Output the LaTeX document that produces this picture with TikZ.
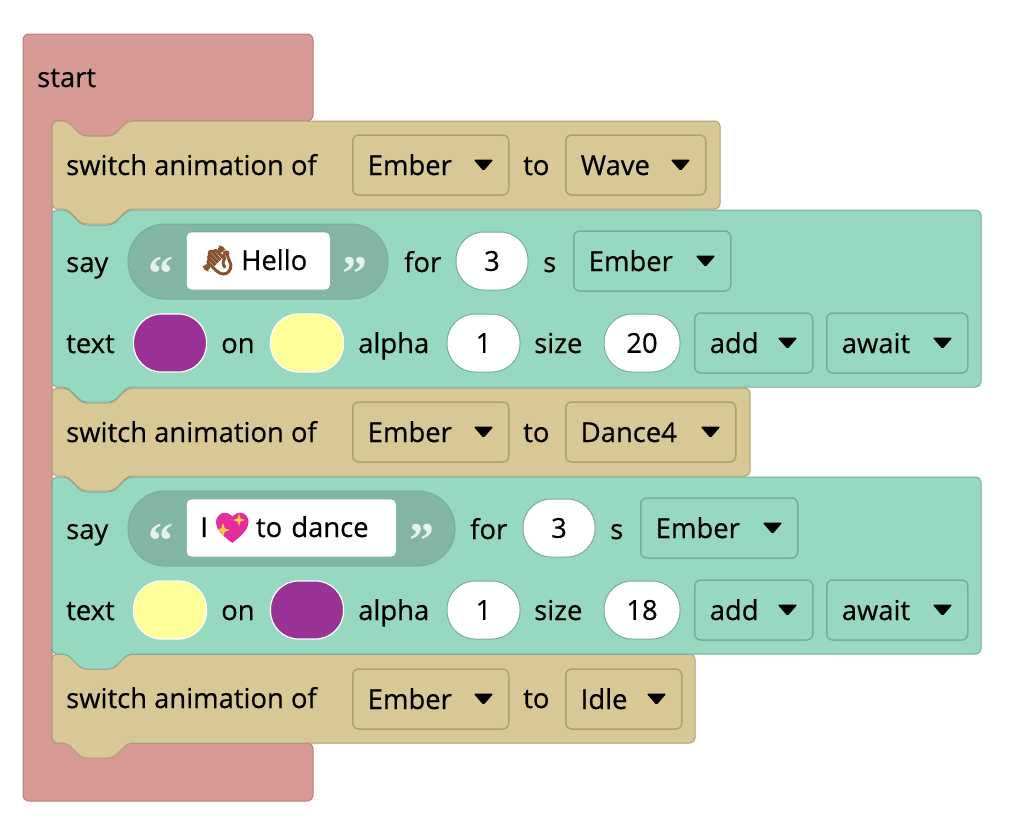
\documentclass[tikz,border=0pt]{standalone}
\usepackage{fontspec}
\setmainfont{Open Sans}[FakeBold=0.5]
\newfontfamily\emojifont{Noto Emoji}[FakeBold=7]
\newfontfamily\quotefont{Liberation Serif}[BoldFont={Liberation Serif Bold}]
\definecolor{startred}{HTML}{D89A95}
\definecolor{startedge}{HTML}{B57C78}
\definecolor{animtan}{HTML}{D7C896}
\definecolor{animedge}{HTML}{ABA078}
\definecolor{saygreen}{HTML}{97D8C0}
\definecolor{sayedge}{HTML}{79AD9A}
\definecolor{quotepill}{HTML}{82B5A5}
\definecolor{swatchpurple}{HTML}{9A3296}
\definecolor{swatchyellow}{HTML}{FFFF99}
\definecolor{handbrown}{HTML}{8A5230}
\definecolor{heartpink}{HTML}{E52C9C}
\definecolor{stargold}{HTML}{FBD043}
\tikzset{
    txt/.style={anchor=base west,inner sep=0pt,font=\fontsize{27.4}{30}\selectfont},
    block/.style={line width=1pt,rounded corners=5pt},
    field/.style={draw=#1,line width=1.5pt,rounded corners=6pt,anchor=west,align=left,
        inner xsep=15pt,inner ysep=0pt,minimum height=60pt,text height=22pt,text depth=2pt,
        font=\fontsize{27.4}{30}\selectfont},
    numpill/.style={draw=sayedge,fill=white,line width=1pt,rounded corners=28pt,inner sep=0pt,
        minimum width=#1,minimum height=58pt,font=\fontsize{27.4}{30}\selectfont},
    swatch/.style={draw=white,line width=1.2pt,fill=#1,rounded corners=28pt,inner sep=0pt,
        minimum width=73pt,minimum height=58pt},
    quotemark/.style={inner sep=0pt,text=white!80!quotepill,font=\quotefont\bfseries\fontsize{50}{50}\selectfont},
    textbox/.style={fill=white,draw=sayedge,line width=.6pt,rounded corners=5pt,anchor=west,align=left,
        inner xsep=14pt,inner ysep=0pt,minimum height=58pt,text height=21pt,text depth=3pt,
        font=\fontsize{27.4}{30}\selectfont},
}
% block outline: style, left, top, right, bottom
\newcommand{\blockshape}[5]{
    \draw[block,#1] (#2,#3) -- (67,#3) -- (82,#3+15) -- (113,#3+15) -- (128,#3) -- (#4,#3)
        -- (#4,#5) -- (128,#5) -- (113,#5+15) -- (82,#5+15) -- (67,#5) -- (#2,#5) -- cycle;
}
% name, left, width, middle, text, colour
\newcommand{\dropdown}[6]{
    \node[field=#6,text width=#3pt-30pt] (#1) at (#2,#4) {#5};
    \fill[rounded corners=1.5pt] ([shift={(-36,-5.5)}]#1.east) -- ++(20,0) -- ++(-10,11.5) -- cycle;
}
% small four point star
\newcommand{\sparkle}[3]{
    \fill[stargold] (#1,#2-#3) -- (#1+.25*#3,#2-.25*#3) -- (#1+#3,#2) -- (#1+.25*#3,#2+.25*#3)
        -- (#1,#2+#3) -- (#1-.25*#3,#2+.25*#3) -- (#1-#3,#2) -- (#1-.25*#3,#2-.25*#3) -- cycle;
}
\begin{document}
\begin{tikzpicture}[x=1pt,y=-1pt]
        \useasboundingbox (0,0) rectangle (1010,827);
        \draw[block,rounded corners=6pt,fill=startred,draw=startedge] (23,34) -- (313,34) -- (313,121) -- (128,121)
            -- (113,136) -- (82,136) -- (67,121) -- (52,121) -- (52,743) -- (313,743) -- (313,801) -- (23,801) -- cycle;
        \node[txt] (start) at (37,87) {start};

        \blockshape{fill=animtan,draw=animedge}{52}{654}{695}{743}
        \blockshape{fill=saygreen,draw=sayedge}{52}{477}{981}{654}
        \blockshape{fill=animtan,draw=animedge}{52}{388}{750}{476}
        \blockshape{fill=saygreen,draw=sayedge}{52}{210}{981}{387}
        \blockshape{fill=animtan,draw=animedge}{52}{121}{720}{209}

        % switch animation rows
        \node[txt] (switcha) at (66,175) {switch animation of};
        \dropdown{whoa}{352}{156}{165}{Ember}{animedge}
        \node[txt] (toa) at (523,175) {to};
        \dropdown{anima}{565}{140}{165}{Wave}{animedge}

        \node[txt] (switchb) at (66,442) {switch animation of};
        \dropdown{whob}{352}{156}{432}{Ember}{animedge}
        \node[txt] (tob) at (523,442) {to};
        \dropdown{animb}{565}{170}{432}{Dance4}{animedge}

        \node[txt] (switchc) at (66,708) {switch animation of};
        \dropdown{whoc}{352}{156}{699}{Ember}{animedge}
        \node[txt] (toc) at (523,708) {to};
        \dropdown{animc}{565}{116}{699}{Idle}{animedge}

        % first say block
        \node[txt] (saya) at (66,272) {say};
        \draw[line width=1pt,draw=sayedge,fill=quotepill,rounded corners=37pt] (128,224) rectangle (388,299);
        \node[quotemark] (lqa) at (161,274) {“};
        \node[quotemark] (rqa) at (355,274) {”};
        \node[textbox,text width=116pt] (boxa) at (186,261) {{\emojifont\textcolor{handbrown}{\char"1F44B}}\hspace{-3pt} Hello};
        \node[txt] (fora) at (404,272) {for};
        \node[numpill=72pt] (numa) at (492,261) {3};
        \node[txt] (sa) at (543,272) {s};
        \dropdown{whod}{573}{157}{261}{Ember}{sayedge}

        \node[txt] (texta) at (66,353) {text};
        \node[swatch=swatchpurple] (fga) at (170,343) {};
        \node[txt] (ona) at (221,353) {on};
        \node[swatch=swatchyellow] (bga) at (307,343) {};
        \node[txt] (alphaa) at (358,353) {alpha};
        \node[numpill=73pt] (alpa) at (483.5,343) {1};
        \node[txt] (sizea) at (534,353) {size};
        \node[numpill=76pt] (sza) at (642,343) {20};
        \dropdown{adda}{694}{118}{343}{add}{sayedge}
        \dropdown{awaita}{826}{141}{343}{await}{sayedge}

        % second say block
        \node[txt] (sayb) at (66,539) {say};
        \draw[line width=1pt,draw=sayedge,fill=quotepill,rounded corners=37pt] (128,491) rectangle (455,566);
        \node[quotemark] (lqb) at (161,541) {“};
        \node[quotemark] (rqb) at (422,541) {”};
        \node[textbox,text width=182pt] (boxb) at (186,528) {I\hspace{-2pt} {\emojifont\textcolor{heartpink}{\char"1F496}}\hspace{-3pt} to dance};
        \fill[heartpink] (231,542) .. controls (222,535) and (216,529) .. (216,522)
            .. controls (216,514) and (227,512) .. (231,520)
            .. controls (235,512) and (246,514) .. (246,522)
            .. controls (246,529) and (240,535) .. (231,542);
        \sparkle{239}{520}{6}
        \sparkle{223}{530}{7}
        \node[txt] (forb) at (470,539) {for};
        \node[numpill=72pt] (numb) at (559,528) {3};
        \node[txt] (sb) at (610,539) {s};
        \dropdown{whoe}{640}{157}{528}{Ember}{sayedge}

        \node[txt] (textb) at (66,620) {text};
        \node[swatch=swatchyellow] (fgb) at (170,610) {};
        \node[txt] (onb) at (221,620) {on};
        \node[swatch=swatchpurple] (bgb) at (307,610) {};
        \node[txt] (alphab) at (358,620) {alpha};
        \node[numpill=73pt] (alpb) at (483.5,610) {1};
        \node[txt] (sizeb) at (534,620) {size};
        \node[numpill=76pt] (szb) at (642,610) {18};
        \dropdown{addb}{694}{118}{610}{add}{sayedge}
        \dropdown{awaitb}{826}{141}{610}{await}{sayedge}
\end{tikzpicture}
\end{document}
